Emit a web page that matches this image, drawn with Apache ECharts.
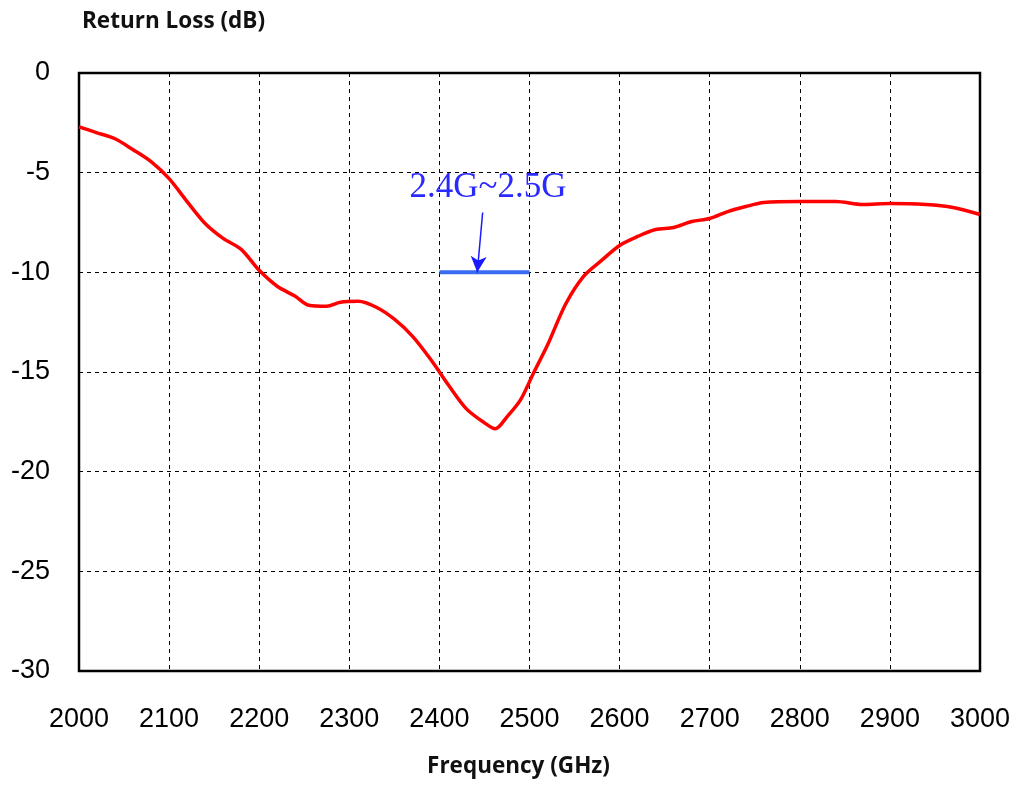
<!DOCTYPE html>
<html>
<head>
<meta charset="utf-8">
<script src="https://cdn.jsdelivr.net/npm/echarts@6/dist/echarts.min.js"></script>
<style>html,body{margin:0;padding:0;background:#fff}#c{width:1017px;height:785px}</style>
</head>
<body>
<div id="c"></div>
<script>
// Frequency (MHz) and return loss (dB)
const freq = [2000,2020,2040,2060,2080,2100,2120,2140,2160,2180,2200,2220,2240,2255,2275,2290,2310,2330,2350,2370,2390,2410,2430,2450,2462,2475,2490,2505,2520,2540,2560,2580,2600,2620,2640,2660,2680,2700,2720,2740,2760,2800,2840,2870,2900,2940,2970,3000];
const returnLoss = [-2.7,-3.0,-3.3,-3.85,-4.45,-5.3,-6.45,-7.55,-8.3,-8.85,-9.9,-10.7,-11.2,-11.65,-11.7,-11.5,-11.45,-11.75,-12.35,-13.2,-14.35,-15.65,-16.85,-17.55,-17.85,-17.25,-16.4,-15.0,-13.65,-11.6,-10.2,-9.4,-8.65,-8.2,-7.85,-7.75,-7.45,-7.3,-6.95,-6.7,-6.5,-6.45,-6.45,-6.6,-6.55,-6.6,-6.75,-7.1];
const bandFreq = [2400, 2500];
const bandLevel = [-10, -10];
const bandLabel = '2.4G~2.5G';
const xTicks = {min: 2000, max: 3000, interval: 100};
const yTicks = {min: -30, max: 0, interval: 5};

const curve = freq.map((f, i) => [f, returnLoss[i]]);
const band = bandFreq.map((f, i) => [f, bandLevel[i]]);

const chart = echarts.init(document.getElementById('c'));
const tickFont = "'Liberation Sans Narrow','Liberation Sans',Arial,sans-serif";
const titleFont = "'Open Sans','Lato',sans-serif";
chart.setOption({
  animation: false,
  grid: {left: 79, right: 37, top: 73, bottom: 114, outerBoundsMode: 'none', containLabel: false,
         show: true, borderColor: '#000', borderWidth: 2.5, backgroundColor: 'transparent'},
  xAxis: {
    type: 'value', min: xTicks.min, max: xTicks.max, interval: xTicks.interval,
    name: 'Frequency (GHz)', nameLocation: 'middle', nameGap: 84,
    nameTextStyle: {fontFamily: titleFont, fontWeight: 'bold', fontSize: 22.5, color: '#111', padding: [0, 22, 0, 0]},
    axisLine: {show: false}, axisTick: {show: false},
    axisLabel: {fontFamily: tickFont, fontSize: 27, color: '#000', margin: 35, formatter: v => String(v)},
    splitLine: {show: true, lineStyle: {color: '#000', type: [4, 4], width: 1}}
  },
  yAxis: {
    type: 'value', min: yTicks.min, max: yTicks.max, interval: yTicks.interval,
    name: 'Return Loss (dB)', nameLocation: 'end', nameGap: 40,
    nameTextStyle: {fontFamily: titleFont, fontWeight: 'bold', fontSize: 22.5, color: '#111', align: 'left', padding: [0, 0, 0, 3]},
    axisLine: {show: false}, axisTick: {show: false},
    axisLabel: {fontFamily: tickFont, fontSize: 27, color: '#000', margin: 29},
    splitLine: {show: true, lineStyle: {color: '#000', type: [4, 4], width: 1}}
  },
  series: [
    {
      type: 'line', data: curve, showSymbol: false, smooth: 0.3,
      lineStyle: {color: '#ff0000', width: 3.5}, z: 3
    },
    {
      type: 'line', data: band, showSymbol: false,
      lineStyle: {color: '#3a6cf2', width: 4}, z: 4,
      markLine: {
        silent: true, symbol: ['none', 'arrow'], symbolSize: [12, 16],
        label: {show: false},
        lineStyle: {color: '#1a1aff', width: 1.5, type: 'solid'},
        data: [[{coord: [2448, -7.0]}, {coord: [2442, -10.0]}]]
      },
      markPoint: {
        silent: true, symbol: 'circle', symbolSize: 0,
        label: {show: true, formatter: bandLabel, fontFamily: "'Liberation Serif','Times New Roman',serif", fontSize: 35, color: '#2a2aff', position: 'inside'},
        data: [{coord: [2454, -5.77]}]
      }
    }
  ]
});
</script>
</body>
</html>
